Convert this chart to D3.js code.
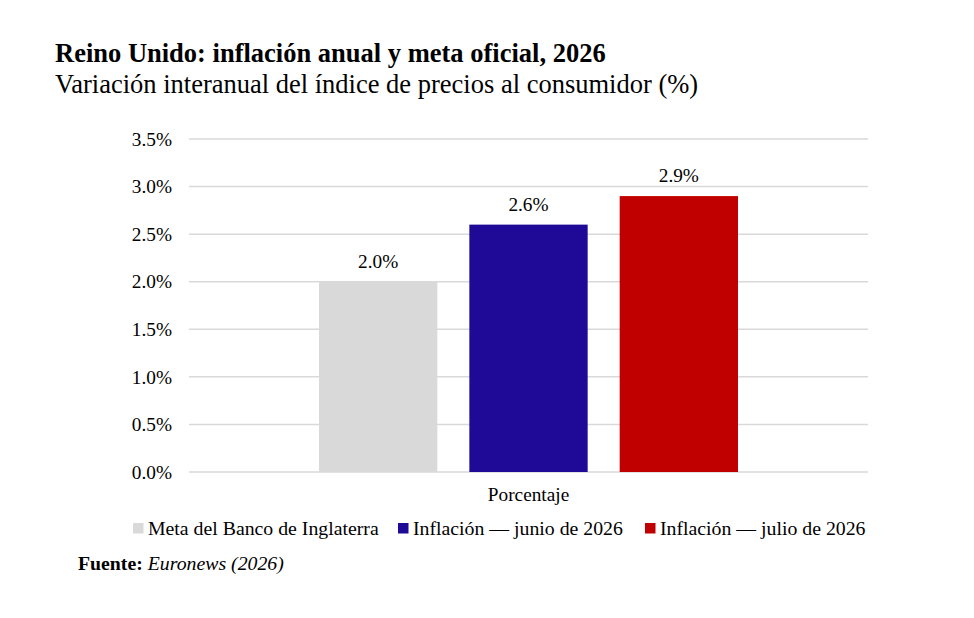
<!DOCTYPE html>
<html><head><meta charset="utf-8">
<script src="https://cdn.jsdelivr.net/npm/d3@7"></script>
<style>body{margin:0;background:#fff}svg{display:block}text{font-family:"Liberation Serif","Times New Roman",serif;fill:#000}</style>
</head><body>
<svg id="c" width="974" height="618"></svg>
<script>
const category = "Porcentaje";
const seriesNames = ["Meta del Banco de Inglaterra","Inflación — junio de 2026","Inflación — julio de 2026"];
const seriesValues = [2.0, 2.6, 2.9];
const seriesColors = ["#d9d9d9","#1f0a97","#c00000"];
const yTicks = [0,0.5,1.0,1.5,2.0,2.5,3.0,3.5];

const svg = d3.select("#c");
const m = {l:189, r:868, t:139, b:472};
const y = d3.scaleLinear().domain([0,3.5]).range([m.b,m.t]);
const x0 = d3.scaleBand().domain([category]).range([m.l,m.r]);
const groupW = 419, gc = x0(category)+x0.bandwidth()/2;
const x1 = d3.scaleBand().domain(seriesNames).range([gc-groupW/2, gc+groupW/2]).paddingInner(0.213);

svg.append("text").attr("x",55).attr("y",62).attr("font-size",26.5).attr("font-weight","bold").text("Reino Unido: inflación anual y meta oficial, 2026");
svg.append("text").attr("x",55).attr("y",93).attr("font-size",26.5).text("Variación interanual del índice de precios al consumidor (%)");

svg.append("g").selectAll("line").data(yTicks).join("line")
  .attr("x1",m.l).attr("x2",m.r).attr("y1",d=>y(d)).attr("y2",d=>y(d))
  .attr("stroke","#d9d9d9").attr("stroke-width",1.5);

const yAxis = d3.axisLeft(y).tickValues(yTicks).tickFormat(d=>d.toFixed(1)+"%").tickSize(0).tickPadding(17);
const ga = svg.append("g").attr("transform",`translate(${m.l},0)`).call(yAxis);
ga.select(".domain").remove();
ga.attr("font-family",null).attr("font-size",null);
ga.selectAll("text").attr("font-size",19.3).attr("fill","#000");

svg.append("g").selectAll("rect").data(seriesValues).join("rect")
  .attr("x",(d,i)=>x1(seriesNames[i])).attr("width",x1.bandwidth())
  .attr("y",d=>y(d)).attr("height",d=>y(0)-y(d)).attr("fill",(d,i)=>seriesColors[i]);

svg.append("g").selectAll("text").data(seriesValues).join("text")
  .attr("x",(d,i)=>x1(seriesNames[i])+x1.bandwidth()/2).attr("y",d=>y(d)-14)
  .attr("text-anchor","middle").attr("font-size",19.3).text(d=>d.toFixed(1)+"%");

svg.append("text").attr("x",gc).attr("y",501).attr("text-anchor","middle").attr("font-size",19.3).text(category);

const legX = [133, 398, 645];
const lg = svg.append("g").selectAll("g").data(seriesNames).join("g")
  .attr("transform",(d,i)=>`translate(${legX[i]},528)`);
lg.append("rect").attr("x",0).attr("y",-5).attr("width",10.5).attr("height",10.5).attr("fill",(d,i)=>seriesColors[i]);
lg.append("text").attr("x",15).attr("y",6.5).attr("font-size",19.8).text(d=>d);

const src = svg.append("text").attr("x",78).attr("y",570).attr("font-size",19.8);
src.append("tspan").attr("font-weight","bold").text("Fuente: ");
src.append("tspan").attr("font-style","italic").text("Euronews (2026)");
</script>
</body></html>
